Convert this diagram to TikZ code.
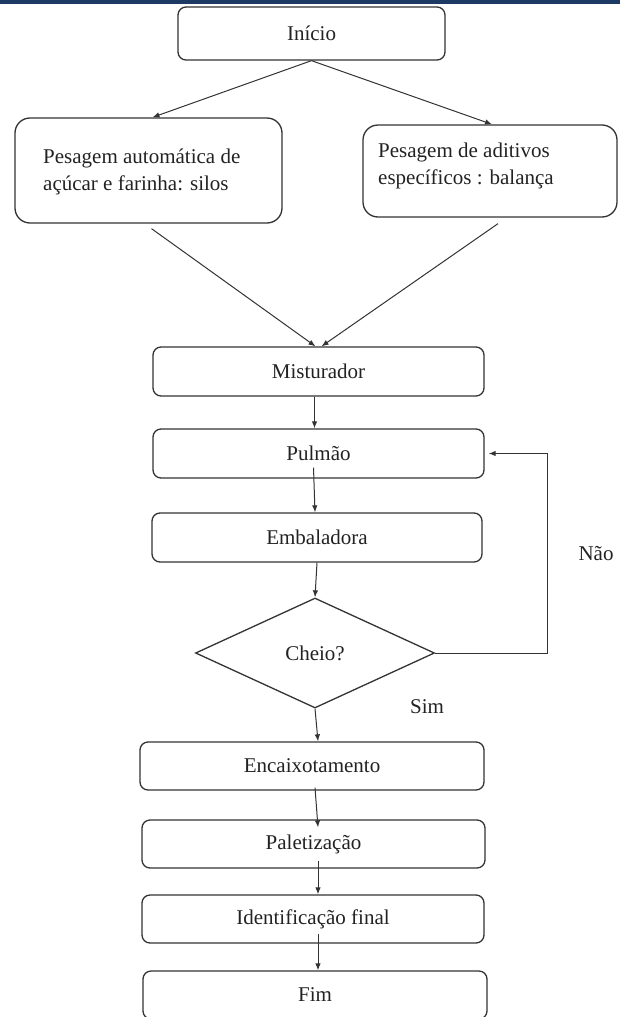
\documentclass[tikz,border=0pt]{standalone}
\usepackage{fontspec}
\setmainfont{Liberation Serif}
\usetikzlibrary{shapes.geometric,arrows.meta,calc}
\definecolor{linec}{HTML}{333333}
\definecolor{txtc}{HTML}{222222}
\definecolor{barc}{HTML}{1C3A63}
\begin{document}
\begin{tikzpicture}[x=1pt,y=-1pt,
  font=\fontsize{21}{27}\selectfont,
  every node/.style={text=txtc},
  stepbox/.style={draw=linec, line width=1.3pt, rounded corners=8pt, inner sep=0pt, minimum height=49pt},
  bigbox/.style={draw=linec, line width=1.3pt, rounded corners=15pt, inner sep=0pt},
  decision/.style={draw=linec, line width=1.3pt, diamond, inner sep=0pt, minimum width=239pt, minimum height=110pt},
  arr/.style={draw=linec, line width=1pt, -{Latex[length=7pt,width=5.5pt]}},
  lbl/.style={inner sep=0pt}]
\useasboundingbox (0,0) rectangle (620,1017);
\clip (0,0) rectangle (620,1017);
\fill[barc] (0,0) rectangle (620,4);

\node[stepbox, minimum width=267pt, minimum height=53pt] (inicio) at (311.5,33.5) {Início};
\node[bigbox, minimum width=267pt, minimum height=105pt] (silos) at (148.5,170.5) {};
\node[lbl, anchor=west, align=left] (silostxt) at (43,172) {Pesagem automática de\\açúcar e farinha: silos};
\node[bigbox, minimum width=254pt, minimum height=92pt] (balanca) at (490,171) {};
\node[lbl, anchor=west, align=left] (balancatxt) at (378,166) {Pesagem de aditivos\\específicos : balança};

\node[stepbox, minimum width=331pt] (mist) at (318.5,371.5) {Misturador};
\node[stepbox, minimum width=331pt] (pulmao) at (318.5,453.5) {Pulmão};
\node[stepbox, minimum width=330pt] (emb) at (317,537.5) {Embaladora};
\node[decision] (cheio) at (315,653) {Cheio?};
\node[stepbox, minimum width=344pt, minimum height=48pt] (enc) at (312,766) {Encaixotamento};
\node[stepbox, minimum width=343pt, minimum height=48pt] (pal) at (313.5,844) {Paletização};
\node[stepbox, minimum width=342pt, minimum height=48pt] (ident) at (313,919) {Identificação final};
\node[stepbox, minimum width=344pt, minimum height=48pt] (fim) at (315,995) {Fim};

\node[lbl] (nao) at (596,554) {Não};
\node[lbl] (sim) at (427,707) {Sim};

\coordinate (loopx) at (547,0);

\draw[arr] (inicio.south) -- ([xshift=4pt]silos.north);
\draw[arr] (inicio.south) -- ([xshift=2pt]balanca.north);
\draw[arr] ([xshift=3pt,yshift=-5pt]silos.south) -- ([xshift=-3pt]mist.north);
\draw[arr] ([xshift=8pt,yshift=-6pt]balanca.south) -- ([xshift=3pt]mist.north);
\draw[arr] ([xshift=-4pt]mist.south) -- ([xshift=-4pt]pulmao.north);
\draw[arr] ([xshift=-5pt,yshift=11pt]pulmao.south) -- ([xshift=-2pt]emb.north);
\draw[arr] (emb.south) -- (cheio.north);
\draw[arr] (cheio.south) -- ([xshift=6pt]enc.north);
\draw[arr] ([xshift=3pt,yshift=3pt]enc.south) -- ([xshift=4.5pt,yshift=-8pt]pal.north);
\draw[arr] ([xshift=4.5pt,yshift=8pt]pal.south) -- ([xshift=5pt]ident.north);
\draw[arr] ([xshift=5pt,yshift=10pt]ident.south) -- ([xshift=3pt]fim.north);
\draw[arr] (cheio.east) -| (loopx |- pulmao.east) -- ([xshift=4pt]pulmao.east);
\end{tikzpicture}
\end{document}
